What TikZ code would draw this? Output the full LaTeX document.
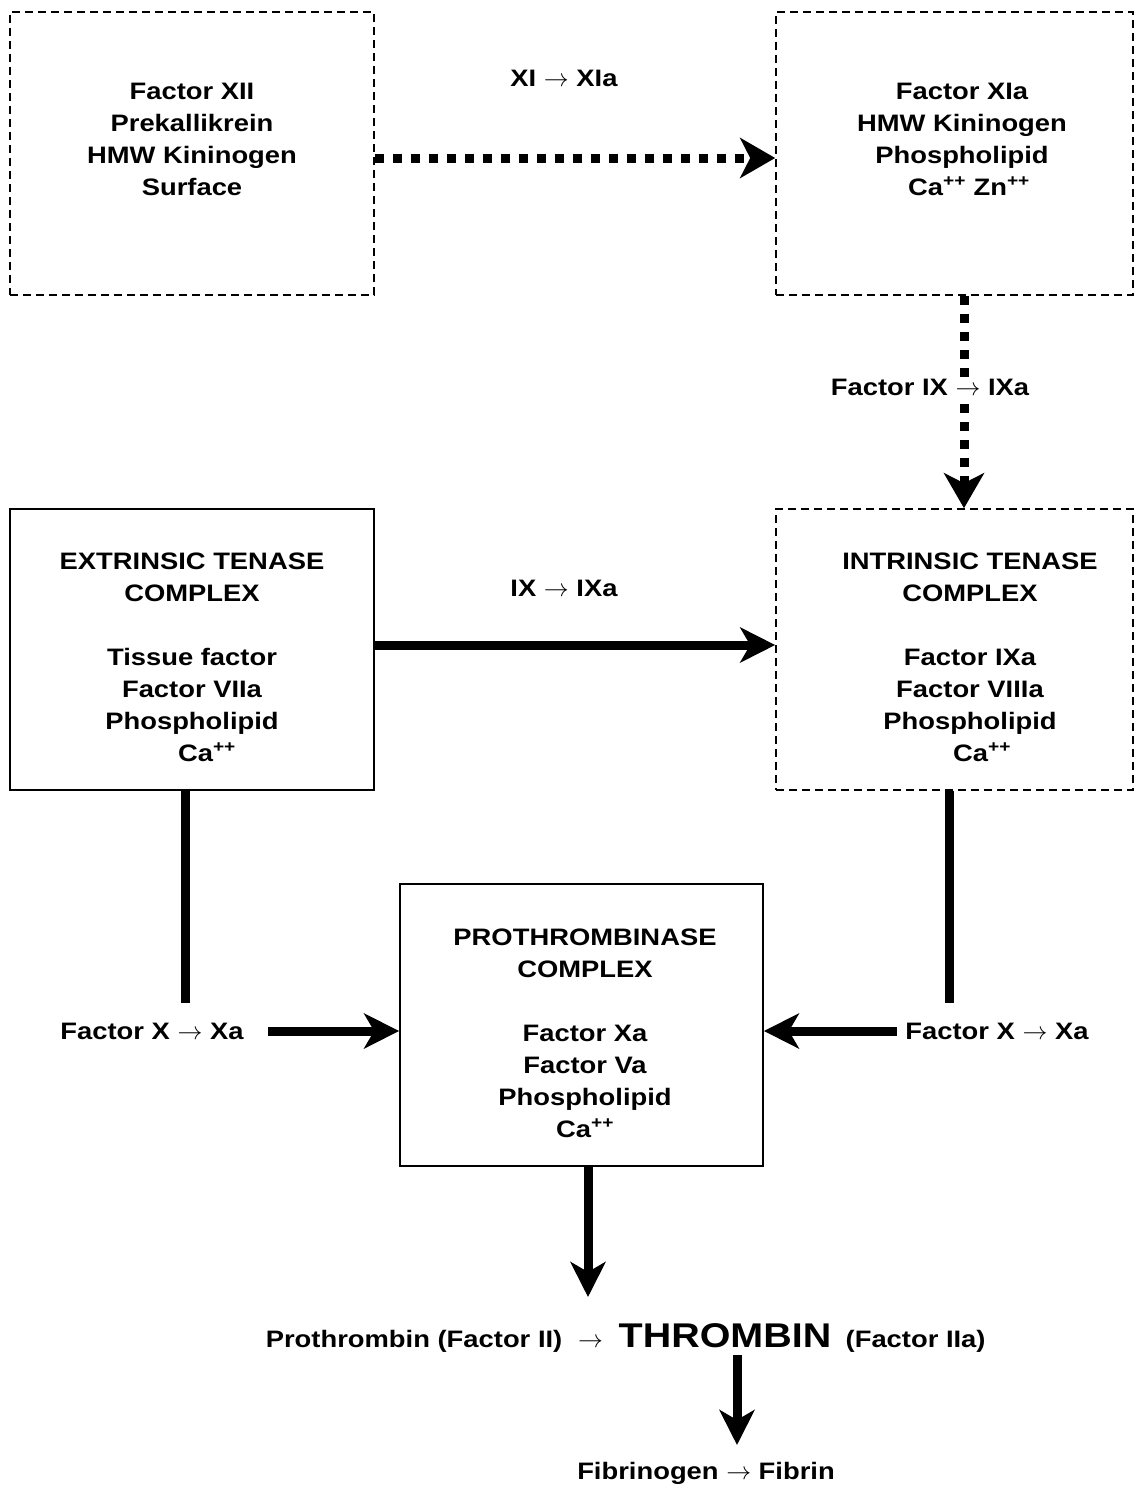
\documentclass[tikz,border=0pt]{standalone}
\usepackage{fontspec}
\setmainfont{Liberation Sans}[FakeStretch=1.15]
\usetikzlibrary{arrows.meta}
\newcommand{\ca}{Ca\textsuperscript{++}}
\newcommand{\zn}{Zn\textsuperscript{++}}
\newcommand{\ra}{$\rightarrow$}
\begin{document}
\begin{tikzpicture}[x=1pt,y=-1pt,
  every node/.style={font=\fontsize{23.8}{32}\selectfont\bfseries, align=center, inner sep=0pt},
  dbox/.style={draw, line width=1.6pt, dash pattern=on 8pt off 5pt, rectangle},
  sbox/.style={draw, line width=1.8pt, rectangle},
  bigarrow/.style={line width=9pt, -{Stealth[length=35pt, width=35pt, inset=10pt]}},
  dotarrow/.style={line width=9pt, dash pattern=on 9pt off 9pt, -{Stealth[length=35pt, width=40pt, inset=10pt]}},
  thickline/.style={line width=9pt},
  lbl/.style={fill=white, inner sep=2pt}]
\useasboundingbox (0,0) rectangle (1135,1488);
% boxes
\node[dbox, minimum width=364pt, minimum height=283pt] (b1) at (192,153.5) {};
\node[dbox, minimum width=357pt, minimum height=283pt] (b2) at (954.5,153.5) {};
\node[sbox, minimum width=364pt, minimum height=281pt] (b3) at (192,649.5) {};
\node[dbox, minimum width=357pt, minimum height=281pt] (b4) at (954.5,649.5) {};
\node[sbox, minimum width=363pt, minimum height=282pt] (b5) at (581.5,1025) {};
% box texts
\node (t1) at (192,139.5) {Factor XII\\Prekallikrein\\HMW Kininogen\\Surface};
\node (t2) at (962,139.5) {Factor XIa\\HMW Kininogen\\Phospholipid\\\hspace*{14pt}\ca\ \zn};
\node (t3) at (192,657) {EXTRINSIC TENASE\\COMPLEX\\[32pt]Tissue factor\\Factor VIIa\\Phospholipid\\\hspace*{30pt}\ca};
\node (t4) at (970,657) {INTRINSIC TENASE\\COMPLEX\\[32pt]Factor IXa\\Factor VIIIa\\Phospholipid\\\hspace*{24pt}\ca};
\node (t5) at (585,1033) {PROTHROMBINASE\\COMPLEX\\[32pt]Factor Xa\\Factor Va\\Phospholipid\\\ca};
% labels
\node (l1) at (564,78) {XI \ra\ XIa};
\node (l3) at (564,588) {IX \ra\ IXa};
\node (lx1) at (152,1031) {Factor X \ra\ Xa};
\node (lx2) at (997,1031) {Factor X \ra\ Xa};
\node[font=\fontsize{34.3}{38}\selectfont\bfseries] (thr) at (725,1336) {THROMBIN};
\node[anchor=base east] (pro) at ([xshift=-56pt]thr.base west) {Prothrombin (Factor II)};
\node[anchor=base] (tra) at ([xshift=-28pt]thr.base west) {\ra};
\node[anchor=base west] (f2a) at ([xshift=14pt]thr.base east) {(Factor IIa)};
\node (fib) at (706,1473) {Fibrinogen \ra\ Fibrin};
% free ends
\coordinate (c1) at (185,1003);
\coordinate (c2) at (949,1003);
\coordinate (s1) at (268,1031);
\coordinate (s2) at (897,1031);
\coordinate (d1) at (588,1297);
\coordinate (e0) at (737,1355);
\coordinate (e1) at (737,1445);
% connectors
\draw[dotarrow] ([yshift=-4.5pt]b1.east) -- ([yshift=-4.5pt]b2.west);
\draw[dotarrow] ([xshift=9.5pt]b2.south) -- ([xshift=9.5pt]b4.north);
\node[lbl] (l2) at (930,387) {Factor IX \ra\ IXa};
\draw[bigarrow] ([yshift=4.5pt]b3.east) -- ([yshift=4.5pt]b4.west);
\draw[thickline] ([xshift=-7pt]b3.south) -- (c1);
\draw[thickline] ([xshift=-5.5pt]b4.south) -- (c2);
\draw[bigarrow] (s1) -- ([yshift=-6pt]b5.west);
\draw[bigarrow] (s2) -- ([yshift=-6pt]b5.east);
\draw[bigarrow] ([xshift=6.5pt]b5.south) -- (d1);
\draw[bigarrow] (e0) -- (e1);
\end{tikzpicture}
\end{document}
